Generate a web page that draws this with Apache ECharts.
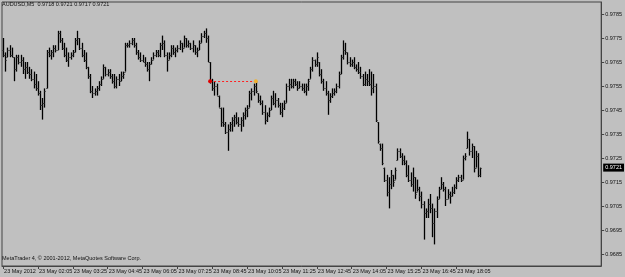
<!DOCTYPE html>
<html><head><meta charset="utf-8">
<script src="https://cdn.jsdelivr.net/npm/echarts@6/dist/echarts.min.js"></script>
<style>html,body{margin:0;padding:0;background:#c0c0c0}#c{width:625px;height:277px}</style>
</head><body><div id="c"></div>
<script>
const headerText = 'AUDUSD,M5  0.9718 0.9721 0.9717 0.9721';
const copyrightText = 'MetaTrader 4, \u00a9 2001-2012, MetaQuotes Software Corp.';
const openP = [
0.9770,0.9768,0.9767,0.9770,0.9768,0.9767,0.9762,0.9767,0.9765,0.9766,0.9762,0.9763,0.9761,0.9760,0.9758,0.9756,0.9754,0.9752,0.9747,0.9748,
0.9754,0.9769,0.9768,0.9769,0.9771,0.9770,0.9777,0.9774,0.9771,0.9768,0.9766,0.9767,0.9768,0.9769,0.9774,0.9775,0.9771,0.9768,0.9766,0.9763,
0.9759,0.9753,0.9752,0.9753,0.9754,0.9756,0.9758,0.9763,0.9760,0.9761,0.9759,0.9757,0.9755,0.9758,0.9757,0.9759,0.9761,0.9772,0.9772,0.9773,
0.9774,0.9772,0.9769,0.9767,0.9766,0.9765,0.9764,0.9762,0.9764,0.9766,0.9768,0.9769,0.9768,0.9772,0.9773,0.9768,0.9766,0.9768,0.9771,0.9769,
0.9770,0.9771,0.9773,0.9771,0.9775,0.9772,0.9773,0.9771,0.9772,0.9769,0.9770,0.9773,0.9776,0.9777,0.9775,0.9765,0.9757,0.9754,0.9755,0.9751,
0.9746,0.9740,0.9739,0.9736,0.9737,0.9739,0.9741,0.9742,0.9740,0.9739,0.9741,0.9743,0.9745,0.9746,0.9752,0.9753,0.9755,0.9752,0.9749,0.9748,
0.9744,0.9741,0.9743,0.9745,0.9750,0.9748,0.9749,0.9747,0.9744,0.9746,0.9748,0.9755,0.9756,0.9755,0.9757,0.9756,0.9754,0.9755,0.9754,0.9753,
0.9755,0.9758,0.9762,0.9766,0.9764,0.9765,0.9760,0.9757,0.9754,0.9752,0.9749,0.9751,0.9752,0.9753,0.9755,0.9760,0.9767,0.9770,0.9769,0.9765,
0.9764,0.9765,0.9763,0.9762,0.9761,0.9759,0.9756,0.9758,0.9757,0.9756,0.9754,0.9755,0.9740,0.9731,0.9729,0.9721,0.9716,0.9711,0.9714,0.9718,
0.9716,0.9724,0.9728,0.9726,0.9724,0.9723,0.9718,0.9716,0.9714,0.9717,0.9711,0.9712,0.9709,0.9706,0.9702,0.9703,0.9706,0.9704,0.9698,0.9703,
0.9708,0.9712,0.9714,0.9712,0.9708,0.9710,0.9709,0.9711,0.9713,0.9716,0.9717,0.9716,0.9725,0.9729,0.9733,0.9728,0.9730,0.9721,0.9726,0.9718];
const highP = [
0.9775,0.9769,0.9771,0.9772,0.9771,0.9767,0.9768,0.9768,0.9768,0.9767,0.9765,0.9765,0.9763,0.9762,0.9761,0.9760,0.9757,0.9753,0.9750,0.9754,
0.9770,0.9771,0.9770,0.9772,0.9772,0.9778,0.9778,0.9775,0.9773,0.9771,0.9769,0.9769,0.9770,0.9775,0.9778,0.9775,0.9773,0.9770,0.9769,0.9763,
0.9760,0.9755,0.9754,0.9755,0.9757,0.9759,0.9764,0.9763,0.9762,0.9762,0.9760,0.9760,0.9759,0.9760,0.9761,0.9761,0.9773,0.9773,0.9774,0.9775,
0.9775,0.9773,0.9770,0.9769,0.9768,0.9767,0.9765,0.9765,0.9767,0.9769,0.9770,0.9770,0.9773,0.9776,0.9774,0.9769,0.9769,0.9772,0.9772,0.9771,
0.9772,0.9774,0.9773,0.9776,0.9775,0.9774,0.9773,0.9774,0.9772,0.9771,0.9774,0.9777,0.9778,0.9779,0.9776,0.9765,0.9758,0.9757,0.9756,0.9751,
0.9746,0.9746,0.9740,0.9739,0.9740,0.9742,0.9743,0.9744,0.9742,0.9742,0.9744,0.9746,0.9747,0.9753,0.9754,0.9756,0.9757,0.9752,0.9751,0.9749,
0.9747,0.9744,0.9746,0.9751,0.9753,0.9752,0.9750,0.9748,0.9748,0.9749,0.9756,0.9758,0.9758,0.9758,0.9758,0.9757,0.9757,0.9756,0.9756,0.9756,
0.9758,0.9763,0.9767,0.9766,0.9769,0.9765,0.9762,0.9758,0.9757,0.9753,0.9752,0.9754,0.9754,0.9756,0.9761,0.9768,0.9774,0.9773,0.9769,0.9767,
0.9766,0.9767,0.9764,0.9765,0.9763,0.9760,0.9761,0.9760,0.9762,0.9761,0.9760,0.9756,0.9740,0.9731,0.9731,0.9721,0.9718,0.9717,0.9720,0.9718,
0.9721,0.9729,0.9729,0.9727,0.9726,0.9724,0.9722,0.9719,0.9721,0.9717,0.9716,0.9713,0.9711,0.9707,0.9704,0.9708,0.9710,0.9706,0.9704,0.9709,
0.9713,0.9717,0.9715,0.9713,0.9712,0.9711,0.9713,0.9714,0.9717,0.9718,0.9718,0.9726,0.9727,0.9736,0.9733,0.9731,0.9730,0.9728,0.9727,0.9721];
const lowP = [
0.9767,0.9761,0.9767,0.9767,0.9767,0.9757,0.9761,0.9764,0.9763,0.9760,0.9758,0.9760,0.9758,0.9757,0.9754,0.9753,0.9751,0.9745,0.9741,0.9746,
0.9754,0.9767,0.9766,0.9767,0.9769,0.9770,0.9773,0.9770,0.9767,0.9765,0.9763,0.9766,0.9767,0.9769,0.9772,0.9770,0.9767,0.9765,0.9762,0.9758,
0.9752,0.9750,0.9751,0.9751,0.9753,0.9755,0.9758,0.9759,0.9759,0.9758,0.9756,0.9754,0.9754,0.9755,0.9757,0.9758,0.9761,0.9771,0.9771,0.9772,
0.9771,0.9768,0.9766,0.9765,0.9765,0.9763,0.9761,0.9757,0.9764,0.9766,0.9767,0.9767,0.9767,0.9770,0.9767,0.9761,0.9766,0.9767,0.9768,0.9767,
0.9769,0.9770,0.9769,0.9771,0.9771,0.9771,0.9770,0.9769,0.9768,0.9767,0.9770,0.9773,0.9775,0.9773,0.9765,0.9756,0.9753,0.9751,0.9751,0.9746,
0.9738,0.9738,0.9735,0.9728,0.9736,0.9736,0.9738,0.9739,0.9738,0.9736,0.9738,0.9741,0.9742,0.9746,0.9749,0.9751,0.9752,0.9748,0.9747,0.9743,
0.9739,0.9740,0.9742,0.9745,0.9747,0.9746,0.9746,0.9743,0.9742,0.9745,0.9748,0.9753,0.9754,0.9754,0.9755,0.9753,0.9754,0.9753,0.9752,0.9751,
0.9753,0.9758,0.9761,0.9763,0.9763,0.9759,0.9756,0.9753,0.9751,0.9743,0.9748,0.9750,0.9751,0.9752,0.9754,0.9760,0.9766,0.9768,0.9764,0.9763,
0.9763,0.9762,0.9761,0.9760,0.9758,0.9755,0.9755,0.9755,0.9755,0.9751,0.9752,0.9740,0.9731,0.9728,0.9722,0.9715,0.9709,0.9704,0.9712,0.9713,
0.9716,0.9724,0.9725,0.9722,0.9722,0.9717,0.9715,0.9713,0.9711,0.9708,0.9711,0.9707,0.9704,0.9691,0.9700,0.9700,0.9702,0.9692,0.9689,0.9700,
0.9708,0.9712,0.9711,0.9705,0.9708,0.9706,0.9709,0.9710,0.9712,0.9715,0.9715,0.9716,0.9724,0.9729,0.9726,0.9725,0.9719,0.9721,0.9717,0.9717];
const closeP = [
0.9768,0.9766,0.9770,0.9768,0.9767,0.9762,0.9767,0.9765,0.9766,0.9762,0.9763,0.9761,0.9760,0.9758,0.9756,0.9754,0.9752,0.9747,0.9748,0.9753,
0.9769,0.9768,0.9769,0.9771,0.9770,0.9777,0.9774,0.9771,0.9768,0.9766,0.9767,0.9768,0.9769,0.9774,0.9775,0.9771,0.9768,0.9766,0.9763,0.9759,
0.9753,0.9752,0.9753,0.9754,0.9756,0.9758,0.9763,0.9760,0.9761,0.9759,0.9757,0.9755,0.9758,0.9757,0.9759,0.9760,0.9772,0.9772,0.9773,0.9774,
0.9772,0.9769,0.9767,0.9766,0.9765,0.9764,0.9762,0.9764,0.9766,0.9768,0.9769,0.9768,0.9772,0.9773,0.9768,0.9766,0.9768,0.9771,0.9769,0.9770,
0.9771,0.9773,0.9771,0.9775,0.9772,0.9773,0.9771,0.9772,0.9769,0.9770,0.9773,0.9776,0.9777,0.9775,0.9765,0.9757,0.9754,0.9755,0.9751,0.9746,
0.9740,0.9739,0.9736,0.9737,0.9739,0.9741,0.9742,0.9740,0.9739,0.9741,0.9743,0.9745,0.9746,0.9752,0.9753,0.9755,0.9753,0.9749,0.9748,0.9744,
0.9741,0.9743,0.9745,0.9750,0.9748,0.9749,0.9747,0.9744,0.9746,0.9748,0.9755,0.9756,0.9755,0.9757,0.9756,0.9754,0.9755,0.9754,0.9753,0.9755,
0.9757,0.9762,0.9766,0.9764,0.9767,0.9760,0.9757,0.9754,0.9752,0.9749,0.9751,0.9752,0.9753,0.9755,0.9760,0.9767,0.9770,0.9769,0.9765,0.9764,
0.9765,0.9763,0.9762,0.9761,0.9759,0.9756,0.9758,0.9757,0.9756,0.9754,0.9755,0.9741,0.9732,0.9729,0.9723,0.9716,0.9711,0.9714,0.9718,0.9715,
0.9720,0.9728,0.9726,0.9724,0.9723,0.9718,0.9716,0.9714,0.9717,0.9710,0.9712,0.9709,0.9706,0.9702,0.9703,0.9706,0.9704,0.9698,0.9703,0.9708,
0.9712,0.9714,0.9712,0.9708,0.9710,0.9709,0.9711,0.9713,0.9716,0.9717,0.9716,0.9725,0.9726,0.9733,0.9728,0.9730,0.9721,0.9726,0.9718,0.9721];
const timeLabels = ['23 May 2012','23 May 02:05','23 May 03:25','23 May 04:45','23 May 06:05','23 May 07:25','23 May 08:45',
  '23 May 10:05','23 May 11:25','23 May 12:45','23 May 14:05','23 May 15:25','23 May 16:45','23 May 18:05'];
const barsPerLabel = 16;
const totalSlots = 275;
const priceTicks = [0.9685,0.9695,0.9705,0.9715,0.9725,0.9735,0.9745,0.9755,0.9765,0.9775,0.9785];
const markLevel = 0.9757;
const markStartBar = 95;
const markEndBar = 116;

const slots = [];
for (let i = 0; i < totalSlots; i++) slots.push(String(i));
const ohlc = openP.map((o, i) => [i, o, highP[i], lowP[i], closeP[i]]);
const lastClose = closeP[closeP.length - 1];
const FONT = 'Liberation Sans';
const FS = 5.5;

function renderBar(params, api) {
  const i = api.value(0);
  const po = api.coord([i, api.value(1)]);
  const ph = api.coord([i, api.value(2)]);
  const pl = api.coord([i, api.value(3)]);
  const pc = api.coord([i, api.value(4)]);
  const x = Math.round(po[0]) + 0.5;
  let yh = ph[1], yl = pl[1];
  if (yl - yh < 1) yl = yh + 1;
  const st = { stroke: '#000', lineWidth: 1.3 };
  const st2 = { stroke: '#333', lineWidth: 1 };
  return { type: 'group', children: [
    { type: 'line', shape: { x1: x, y1: yh, x2: x, y2: yl }, style: st },
    { type: 'line', shape: { x1: x - 1.2, y1: Math.round(po[1]) + 0.5, x2: x, y2: Math.round(po[1]) + 0.5 }, style: st2 },
    { type: 'line', shape: { x1: x, y1: Math.round(pc[1]) + 0.5, x2: x + 1.2, y2: Math.round(pc[1]) + 0.5 }, style: st2 }
  ]};
}

const chart = echarts.init(document.getElementById('c'), null, { renderer: 'canvas' });
chart.setOption({
  backgroundColor: '#c0c0c0',
  animation: false,
  title: [
    { text: headerText, left: 2, top: 1, padding: 0, textStyle: { fontFamily: FONT, fontSize: FS, fontWeight: 'normal', color: '#111' } },
    { text: copyrightText, left: 2, top: 255, padding: 0, textStyle: { fontFamily: FONT, fontSize: FS, fontWeight: 'normal', color: '#111' } }
  ],
  grid: { left: 2, right: 21, top: 2, bottom: 11, show: true, borderColor: '#444', borderWidth: 1, backgroundColor: '#c0c0c0' },
  xAxis: {
    type: 'category', data: slots, boundaryGap: true,
    axisLine: { show: true, lineStyle: { color: '#444', width: 1 } },
    axisTick: { show: true, alignWithLabel: true, length: 3, interval: (idx) => idx % barsPerLabel === 0 && idx / barsPerLabel < timeLabels.length, lineStyle: { color: '#444' } },
    axisLabel: {
      show: true, interval: (idx) => idx % barsPerLabel === 0 && idx / barsPerLabel < timeLabels.length,
      formatter: (v, idx) => timeLabels[Math.round(idx / barsPerLabel)] || '',
      align: 'left', margin: 2, padding: [0, 0, 0, 1],
      fontFamily: FONT, fontSize: FS, color: '#111', hideOverlap: false
    },
    splitLine: { show: false }
  },
  yAxis: {
    type: 'value', position: 'right', min: 0.968, max: 0.979, scale: true,
    axisLine: { show: true, lineStyle: { color: '#444', width: 1 } },
    axisTick: { show: true, length: 3, customValues: priceTicks, lineStyle: { color: '#444' } },
    axisLabel: { show: true, customValues: priceTicks, formatter: (v) => v.toFixed(4), margin: 4,
      fontFamily: FONT, fontSize: FS, color: '#111', hideOverlap: false },
    splitLine: { show: false }
  },
  series: [
    {
      type: 'custom', renderItem: renderBar, data: ohlc,
      encode: { x: 0, y: [1, 2, 3, 4] }, silent: true, clip: true,
      markPoint: {
        silent: true, symbol: 'circle', symbolSize: 4, label: { show: false },
        data: [
          { coord: [String(markStartBar), markLevel], itemStyle: { color: '#e00000' } },
          { coord: [String(markEndBar), markLevel], itemStyle: { color: '#f0b030' } }
        ]
      }
    },
    {
      type: 'line', data: [], silent: true, showSymbol: false, color: '#e02020', z: 1,
      markLine: {
        silent: true, symbol: 'none', animation: false, precision: 4,
        label: { show: false },
        lineStyle: { color: '#ff2020', type: [2, 2], width: 1, opacity: 1 },
        data: [
          [ { coord: [String(markStartBar), markLevel] }, { coord: [String(markEndBar), markLevel] } ]
        ]
      }
    },
    {
      type: 'line', data: [], silent: true, showSymbol: false,
      markLine: {
        silent: true, symbol: 'none', animation: false, precision: 4,
        data: [
          { yAxis: lastClose,
            lineStyle: { color: 'rgba(0,0,0,0)', width: 1 },
            label: { show: true, position: 'end', distance: 2, formatter: () => lastClose.toFixed(4),
              backgroundColor: '#000', color: '#fff', fontFamily: FONT, fontSize: FS, padding: [1, 2, 1, 2] } }
        ]
      }
    }
  ]
});
</script>
</body></html>
